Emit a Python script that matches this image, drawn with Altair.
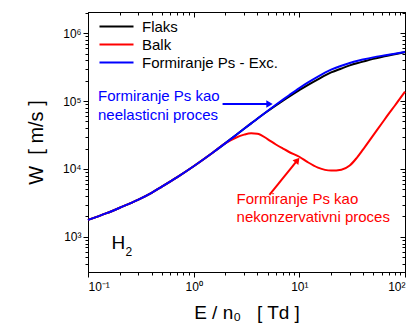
import altair as alt
import pandas as pd

FONT = "Arial, Liberation Sans, sans-serif"
NB = "\u00a0"

# ---- data ----
x_vals = [0.1, 0.15, 0.2, 0.3, 0.4, 0.5, 0.7, 1, 1.5, 2, 2.5, 3, 3.5, 4, 5, 6, 7, 8,
          10, 12, 15, 20, 25, 30, 35, 40, 50, 60, 70, 80, 100]

blue_vals = [1778, 2239, 2692, 3548, 4467, 5495, 7586, 10965, 17180, 23988, 31333, 38994,
             46881, 54954, 71450, 88105, 104954, 121619, 154882, 186209, 229087, 289068,
             330370, 362243, 388150, 407380, 438531, 461318, 479733, 494311, 524807]

black_vals = [1778, 2239, 2692, 3548, 4467, 5495, 7586, 10965, 17180, 23988, 31333, 38994,
              46881, 54954, 70632, 86099, 101391, 116145, 144544, 171791, 208930, 263633,
              301302, 334195, 359749, 380189, 416869, 445656, 468813, 488652, 524807]

red_vals = [1778, 2239, 2692, 3548, 4467, 5495, 7586, 10965, 17180, 23988, 28840, 31989,
            33497, 33113, 27542, 22909, 19953, 17783, 15136, 12589, 10471, 9462,
            9772, 11220, 14622, 19275, 31261, 46238, 64565, 85114, 137088]

series_names = ["Flaks", "Balk", "Formiranje Ps - Exc."]
series_colors = ["#000000", "#FF0000", "#0000FF"]

x_ticks = [0.1, 0.2, 0.3, 0.4, 0.5, 0.6, 0.7, 0.8, 0.9, 1, 2, 3, 4, 5, 6, 7, 8, 9,
           10, 20, 30, 40, 50, 60, 70, 80, 90, 100]
y_ticks = [400, 500, 600, 700, 800, 900, 1000, 2000, 3000, 4000, 5000, 6000, 7000, 8000, 9000,
           10000, 20000, 30000, 40000, 50000, 60000, 70000, 80000, 90000,
           100000, 200000, 300000, 400000, 500000, 600000, 700000, 800000, 900000,
           1000000, 2000000]

# annotations
ann_text = ["Formiranje Ps kao", "neelasticni proces", "Formiranje Ps kao", "nekonzervativni proces"]
ann_x = [0.1243, 0.1243, 2.545, 2.545]
ann_y = [118400, 62200, 3622, 1968]
ann_color = ["#0000FF", "#0000FF", "#FF0000", "#FF0000"]

arrow_x = [1.877, 5.21]
arrow_y = [90360, 4150]
arrow_x2 = [5.0, 9.40]
arrow_y2 = [90360, 12900]
arrow_head_x = [5.10, 9.46]
arrow_head_y = [90360, 13110]
arrow_angle = [90, 39]
arrow_color = ["#0000FF", "#FF0000"]

gas_text = ["H", "2"]
gas_x = [0.1667, 0.226]
gas_y = [816, 592]
gas_size = [19, 12]

# ---- tables ----
rows = []
for name, vals in zip(series_names, [black_vals, red_vals, blue_vals]):
    for xv, yv in zip(x_vals, vals):
        rows.append({"E": xv, "W": yv, "serie": name})
df = pd.DataFrame(rows)

df_ann = pd.DataFrame({"t": ann_text, "x": ann_x, "y": ann_y, "c": ann_color})
df_arr = pd.DataFrame({"x": arrow_x, "y": arrow_y, "x2": arrow_x2, "y2": arrow_y2,
                       "hx": arrow_head_x, "hy": arrow_head_y, "a": arrow_angle, "c": arrow_color})
df_gas = pd.DataFrame({"t": gas_text, "x": gas_x, "y": gas_y, "s": gas_size})

xscale = alt.Scale(type="log", domain=[0.1, 100], nice=False)
yscale = alt.Scale(type="log", domain=[305, 2040000], nice=False)

x_major = "indexof([0.1, 1, 10, 100], datum.value) >= 0"
y_major = "indexof([1000, 10000, 100000, 1000000], datum.value) >= 0"

x_axis = alt.Axis(
    values=x_ticks, title=f"E / n₀{NB}{NB}{NB}[ Td ]", grid=False,
    labelExpr="datum.value == 0.1 ? '10⁻¹' : datum.value == 1 ? '10⁰' : datum.value == 10 ? '10¹' : datum.value == 100 ? '10²' : ''",
    labelFont=FONT, labelFontSize=12, labelColor="#000000", labelOverlap=False, labelPadding=4,
    tickSize=alt.ExprRef(expr=f"{x_major} ? 5 : 3"), tickColor="#000000",
    domainColor="#000000", titleFont=FONT, titleFontSize=19, titleFontWeight="normal",
    titleColor="#000000", titleY=46, titleBaseline="alphabetic",
)
y_axis = alt.Axis(
    values=y_ticks, title=f"W{NB}{NB}[ m/s ]", grid=False,
    labelExpr="datum.value == 1000 ? '10³' : datum.value == 10000 ? '10⁴' : datum.value == 100000 ? '10⁵' : datum.value == 1000000 ? '10⁶' : ''",
    labelFont=FONT, labelFontSize=12, labelColor="#000000", labelOverlap=False, labelPadding=2,
    tickSize=alt.ExprRef(expr=f"{y_major} ? 5 : 3"), tickColor="#000000",
    domainColor="#000000", titleFont=FONT, titleFontSize=20, titleFontWeight="normal",
    titleColor="#000000", titleX=-46, titleBaseline="alphabetic",
)
x_axis_top = alt.Axis(values=x_ticks, orient="top", labels=False, title=None, grid=False,
                      tickSize=alt.ExprRef(expr=f"{x_major} ? -5 : -3"), tickColor="#000000",
                      domainColor="#000000")
y_axis_right = alt.Axis(values=y_ticks, orient="right", labels=False, title=None, grid=False,
                        tickSize=alt.ExprRef(expr=f"{y_major} ? -5 : -3"), tickColor="#000000",
                        domainColor="#000000")

color = alt.Color(
    "serie:N",
    scale=alt.Scale(domain=series_names, range=series_colors),
    legend=alt.Legend(
        title=None, orient="none", legendX=21, legendY=7, padding=0,
        symbolType="M-5.67,0H5.67", symbolSize=36, symbolStrokeWidth=2,
        labelOffset=18, labelFont=FONT, labelFontSize=15, labelColor="#000000",
        rowPadding=2, symbolOffset=0,
    ),
)

lines = []
for i, name in enumerate(series_names):
    ax = x_axis if i == 0 else None
    ay = y_axis if i == 0 else None
    lines.append(
        alt.Chart(df).transform_filter(alt.datum.serie == name)
        .mark_line(strokeWidth=2, interpolate="monotone")
        .encode(
            x=alt.X("E:Q", scale=xscale, axis=ax),
            y=alt.Y("W:Q", scale=yscale, axis=ay),
            color=color,
        )
    )

mirror = alt.Chart(df).mark_point(opacity=0).encode(
    x=alt.X("E:Q", scale=xscale, axis=x_axis_top),
    y=alt.Y("W:Q", scale=yscale, axis=y_axis_right),
)

ann = alt.Chart(df_ann).mark_text(align="left", baseline="middle", font=FONT, fontSize=15).encode(
    x=alt.X("x:Q", scale=xscale, axis=None),
    y=alt.Y("y:Q", scale=yscale, axis=None),
    text="t:N",
    color=alt.Color("c:N", scale=None),
)

arr = alt.Chart(df_arr).mark_rule(strokeWidth=2).encode(
    x=alt.X("x:Q", scale=xscale, axis=None),
    y=alt.Y("y:Q", scale=yscale, axis=None),
    x2="x2:Q", y2="y2:Q",
    color=alt.Color("c:N", scale=None),
)
heads = alt.Chart(df_arr).mark_point(shape="triangle", filled=True, size=55, opacity=1).encode(
    x=alt.X("hx:Q", scale=xscale, axis=None),
    y=alt.Y("hy:Q", scale=yscale, axis=None),
    angle=alt.Angle("a:Q", scale=None),
    color=alt.Color("c:N", scale=None),
)

gas = alt.Chart(df_gas).mark_text(align="left", baseline="middle", font=FONT, color="#000000").encode(
    x=alt.X("x:Q", scale=xscale, axis=None),
    y=alt.Y("y:Q", scale=yscale, axis=None),
    text="t:N",
    size=alt.Size("s:Q", scale=None, legend=None),
)

chart = alt.layer(*lines, mirror, ann, arr, heads, gas).resolve_axis(
    x="independent", y="independent"
).properties(
    width=317, height=260,
    autosize=alt.AutoSizeParams(type="none"),
    padding={"left": 88, "top": 12, "right": 7, "bottom": 53},
    background="#FFFFFF",
).configure_view(stroke="#000000", strokeWidth=1)

chart.save("out.html", embed_options={"renderer": "svg", "actions": False})
